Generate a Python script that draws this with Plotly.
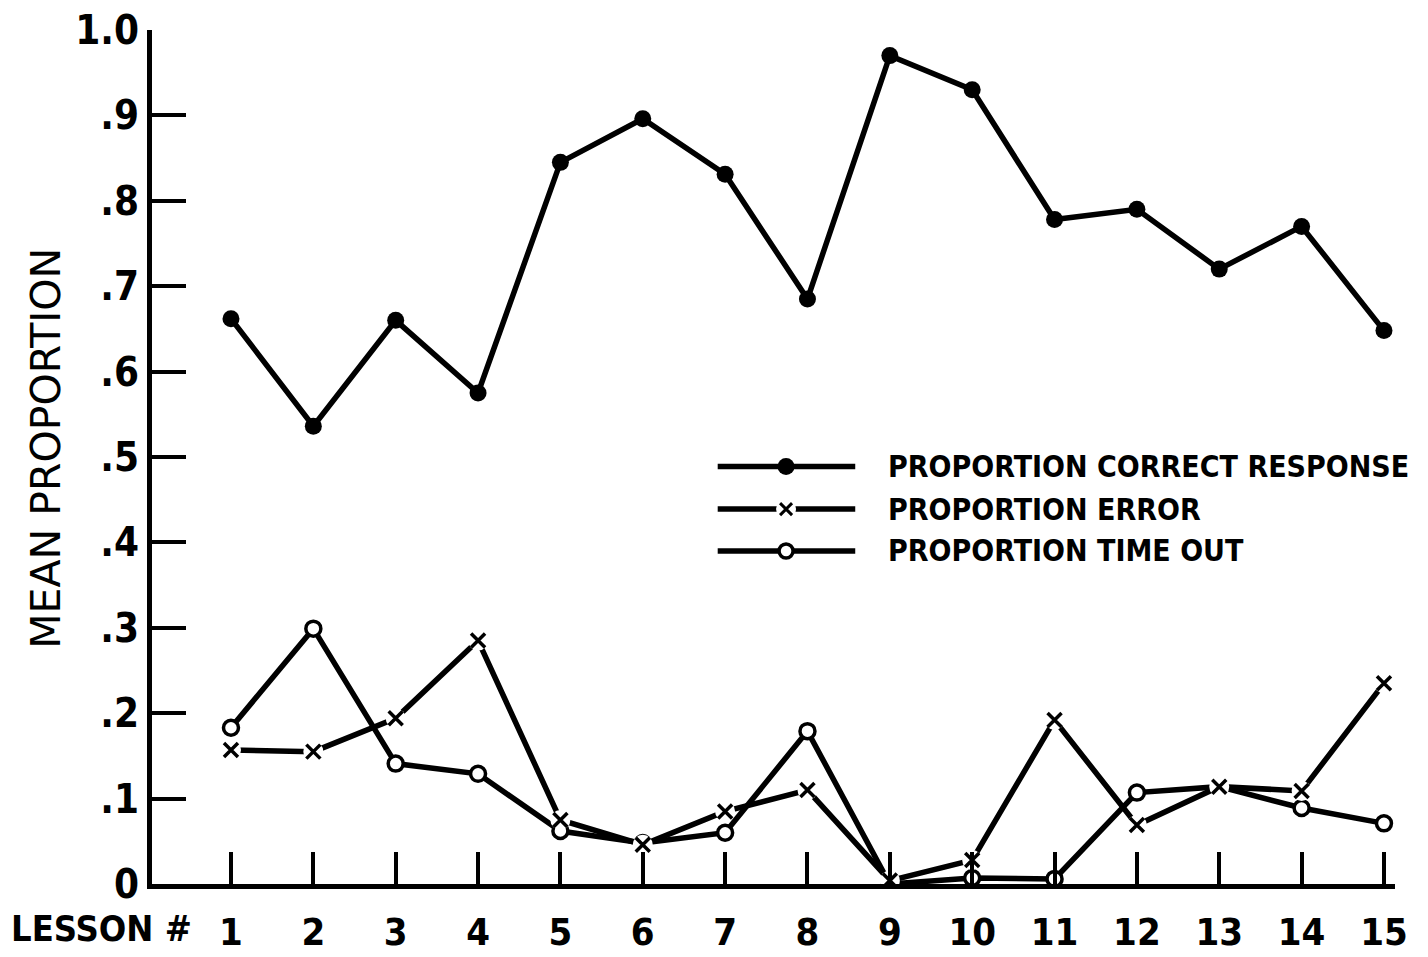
import plotly.graph_objects as go

lessons = list(range(1, 16))
lesson_labels = [str(i) for i in lessons]
correct = [0.662, 0.536, 0.660, 0.575, 0.845, 0.896, 0.831, 0.685, 0.970, 0.930, 0.778, 0.790, 0.720, 0.770, 0.648]
error = [0.157, 0.155, 0.194, 0.285, 0.075, 0.046, 0.085, 0.110, 0.004, 0.028, 0.192, 0.069, 0.114, 0.109, 0.235]
timeout = [0.183, 0.299, 0.141, 0.129, 0.062, 0.048, 0.060, 0.179, 0.000, 0.007, 0.006, 0.107, 0.114, 0.089, 0.071]
y_ticks = [0, 0.1, 0.2, 0.3, 0.4, 0.5, 0.6, 0.7, 0.8, 0.9, 1.0]
y_tick_labels = ["0", ".1", ".2", ".3", ".4", ".5", ".6", ".7", ".8", ".9", "1.0"]
legend_names = ["PROPORTION CORRECT RESPONSE", "PROPORTION ERROR", "PROPORTION TIME OUT"]

FONT = "DejaVu Sans Condensed, DejaVu Sans"
LW = 5.5

fig = go.Figure()

# time out line
fig.add_trace(go.Scatter(x=lessons, y=timeout, mode="lines+markers",
                         line=dict(color="black", width=LW),
                         marker=dict(symbol="circle", size=15, color="white",
                                     line=dict(color="black", width=3.5)),
                         showlegend=False))
# error line with gaps around x markers
fig.add_trace(go.Scatter(x=lessons, y=error, mode="lines",
                         line=dict(color="black", width=LW), showlegend=False))
fig.add_trace(go.Scatter(x=lessons, y=error, mode="markers",
                         marker=dict(symbol="circle", size=20, color="white"),
                         showlegend=False))
fig.add_trace(go.Scatter(x=lessons, y=error, mode="markers",
                         marker=dict(symbol="x-thin", size=14,
                                     line=dict(color="black", width=3.5)),
                         showlegend=False))
# correct line
fig.add_trace(go.Scatter(x=lessons, y=correct, mode="lines+markers",
                         line=dict(color="black", width=LW),
                         marker=dict(symbol="circle", size=17, color="black"),
                         showlegend=False))

# hand-drawn style legend keys
leg_x = [6.91, 7.74, 8.58]
leg_y = [0.489, 0.439, 0.390]
fig.add_trace(go.Scatter(x=[leg_x[0], leg_x[2]], y=[leg_y[0]] * 2, mode="lines",
                         line=dict(color="black", width=LW), showlegend=False))
fig.add_trace(go.Scatter(x=[leg_x[1]], y=[leg_y[0]], mode="markers",
                         marker=dict(symbol="circle", size=17, color="black"), showlegend=False))
fig.add_trace(go.Scatter(x=[leg_x[0], leg_x[2]], y=[leg_y[1]] * 2, mode="lines",
                         line=dict(color="black", width=LW), showlegend=False))
fig.add_trace(go.Scatter(x=[leg_x[1]], y=[leg_y[1]], mode="markers",
                         marker=dict(symbol="circle", size=20, color="white"), showlegend=False))
fig.add_trace(go.Scatter(x=[leg_x[1]], y=[leg_y[1]], mode="markers",
                         marker=dict(symbol="x-thin", size=12, line=dict(color="black", width=3)),
                         showlegend=False))
fig.add_trace(go.Scatter(x=[leg_x[0], leg_x[2]], y=[leg_y[2]] * 2, mode="lines",
                         line=dict(color="black", width=LW), showlegend=False))
fig.add_trace(go.Scatter(x=[leg_x[1]], y=[leg_y[2]], mode="markers",
                         marker=dict(symbol="circle", size=14, color="white",
                                     line=dict(color="black", width=3.5)), showlegend=False))

annotations = []
for name, yy in zip(legend_names, leg_y):
    annotations.append(dict(x=8.95, y=yy, xref="x", yref="y", text="<b>" + name + "</b>",
                            showarrow=False, xanchor="left", yanchor="middle",
                            font=dict(family=FONT, size=30, color="black")))
annotations.append(dict(x=0.034, y=-0.052, xref="paper", yref="paper", text="<b>LESSON #</b>",
                        showarrow=False, xanchor="right", yanchor="middle",
                        font=dict(family=FONT, size=36, color="black")))
annotations.append(dict(x=-0.085, y=0.51, xref="paper", yref="paper", text="MEAN PROPORTION",
                        showarrow=False, textangle=-90, xanchor="center", yanchor="middle",
                        font=dict(family="DejaVu Sans", size=41, color="black")))

fig.update_layout(
    width=1420, height=949,
    margin=dict(l=144, r=33, t=22, b=73, autoexpand=False),
    paper_bgcolor="white", plot_bgcolor="white",
    showlegend=False,
    annotations=annotations,
    xaxis=dict(range=[0.041, 15.134], tickmode="array", tickvals=lessons, ticktext=lesson_labels,
               showline=True, linecolor="black", linewidth=5, ticks="inside", ticklen=32,
               tickwidth=4, tickcolor="black", showgrid=False, zeroline=False,
               automargin=False, ticklabelstandoff=10, ticklabeloverflow="allow",
               tickfont=dict(family=FONT, size=38, color="black", weight="bold")),
    yaxis=dict(range=[0, 1.0], tickmode="array", tickvals=y_ticks, ticktext=y_tick_labels,
               showline=True, linecolor="black", linewidth=5, ticks="inside", ticklen=34,
               tickwidth=4, tickcolor="black", showgrid=False, zeroline=False,
               automargin=False, ticklabeloverflow="allow",
               tickfont=dict(family=FONT, size=40, color="black", weight="bold")),
)

fig.write_html("out.html")
